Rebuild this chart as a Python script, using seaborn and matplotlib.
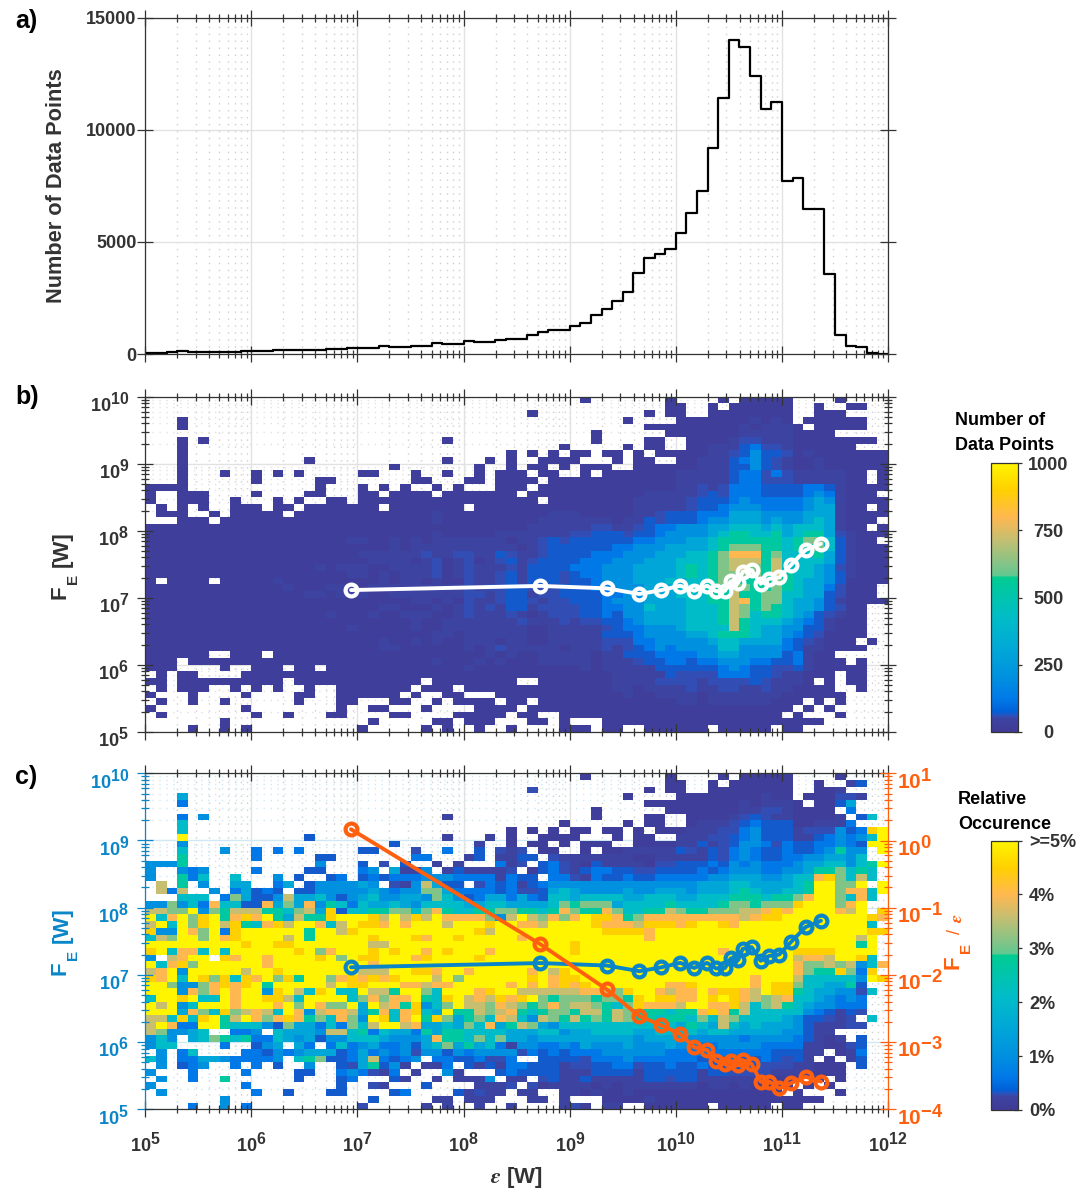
import numpy as np
import pandas as pd
import seaborn as sns
import matplotlib
matplotlib.use('Agg')
import matplotlib._mathtext as mathtext_core
import matplotlib.pyplot as plt
from matplotlib.colors import LinearSegmentedColormap
from matplotlib.ticker import FuncFormatter, LogLocator, NullFormatter
from matplotlib.transforms import ScaledTranslation

sns.set_style('white')
plt.rcParams['font.family'] = ['Liberation Sans', 'DejaVu Sans']
plt.rcParams['font.weight'] = 'bold'
plt.rcParams['mathtext.fontset'] = 'custom'
plt.rcParams['mathtext.rm'] = 'Liberation Sans'
plt.rcParams['mathtext.it'] = 'STIXGeneral:italic'
plt.rcParams['mathtext.bf'] = 'Liberation Sans:bold'
# the exponents on the log ticks are almost as big as the base
mathtext_core.SHRINK_FACTOR = 0.88

W, H = 1088, 1190
DARK = '#333333'
BLUE = '#0a86c8'
ORANGE = '#ff6010'

# histogram in panel a, one value per bin, 10 bins a decade
hist_counts = [45, 45, 74, 149, 104, 89, 89, 104, 104, 119,
               119, 134, 179, 179, 179, 179, 193, 208, 223, 253,
               283, 283, 357, 298, 327, 342, 357, 506, 431, 446,
               565, 521, 536, 625, 670, 684, 863, 982, 1056, 1071,
               1250, 1399, 1726, 1994, 2381, 2783, 3601, 4286, 4479, 4672,
               5387, 6294, 7262, 9181, 11428, 14032, 13690, 12410, 10922, 11264,
               7708, 7872, 6473, 6458, 3571, 848, 342, 298, 30, 15]

# mean curves
eps_mean = [8.69e6, 5.25e8, 2.23e9, 4.53e9, 7.21e9, 1.10e10, 1.49e10, 1.97e10, 2.39e10, 2.91e10,
            3.29e10, 3.88e10, 4.27e10, 5.19e10, 6.31e10, 7.60e10, 9.44e10, 1.21e11, 1.67e11, 2.33e11]
fe_mean = [1.30e7, 1.50e7, 1.38e7, 1.135e7, 1.29e7, 1.51e7, 1.27e7, 1.51e7, 1.25e7, 1.27e7,
           1.76e7, 1.67e7, 2.44e7, 2.59e7, 1.62e7, 1.92e7, 2.01e7, 3.05e7, 5.15e7, 6.40e7]
fe_ratio = [1.47, 0.0288, 0.0061, 0.00244, 0.00179, 0.00132, 0.000837, 0.000764, 0.000524, 0.000472,
            0.000528, 0.000455, 0.00054, 0.000472, 0.000258, 0.000258, 0.000205, 0.000244, 0.000305, 0.000258]

# cell levels, one string per row from the top, '.' is an empty cell
level_keys = '0123456789abcd'
count_levels = [20, 45, 58, 70, 120, 200, 300, 420, 540, 620, 720, 800, 900, 1000]
percent_levels = [0.1, 0.225, 0.29, 0.35, 0.6, 1.0, 1.5, 2.1, 2.7, 3.1, 3.6, 4.0, 4.5, 5.0]

count_rows = [
    ".......... .......... .......... ...... .... .0.......0 ....0.0000 0....0....",
    ".......... .......... .......... ...... .... .........0 0..0.00000 0..0..00..",
    ".......... .......... .......... ...... 0... .......0.0 0..0000000 0..000....",
    "...0...... .......... .......... ...... .... .....0.... 0000000101 0.000000..",
    "...0...... .......... .......... ...... .... .......000 0000001011 10.00000..",
    ".......... .......... .......... ...... .... ..0......0 0000001111 10000.....",
    "...0.0.... .......... ........0. ...... .... ..0....00. .000012211 100000000.",
    "...0...... .......... .......... ...... ...0 .....0.00. .001113422 1000000...",
    "...0...... .......... .......... ....0. 0.0. 00.00.0.00 0001123533 2010000000",
    "...0...... .....0.... ........0. ..0.0. .000 0...0.00.. 0011134532 1001000000",
    "...0...... .......... ...0...... .0..0. 00.0 .000..0000 0011133532 1001000000",
    "...0...0.. 0.0.0..... 00...0..0. .0.000 .00. .0.0000000 1111134424 21111100.0",
    "...0...... 0.....00.. .....00... 00.000 0.00 0000000000 1111134422 21111100.0",
    "0000...... ......0... 0.0.0..0.0 ...000 .000 0000000000 1121244433 3344310000",
    "0..000.... 0....00... 00.0000.00 00000. 0000 0000000111 1123244433 334541000.",
    "0..000..0. ..0.0..00. 0000000000 000000 0.00 0000001111 1233345444 4456510000",
    ".0.0.0..00 0.00.00000 00.0000000 .00000 0000 0000001111 1233455544 44566100.0",
    ".000..0.00 000.000000 0000000100 000000 0011 1000001123 3344466655 5566610000",
    "...000.000 0000000000 0000000100 000000 0111 1111011323 3345566656 556761000.",
    "0000000000 0000000000 0000000000 000000 1111 1122112344 5556677767 67776100.0",
    "0000000000 0000000000 0000000100 000111 1111 2233323345 5556788778 6788621000",
    "0000000000 0000000001 1001010111 111101 1232 3333334455 5667888888 789973100.",
    "0000000000 0000000000 0001011111 111110 1233 3333445556 6667899988 7889731000",
    "0000000000 0000000000 1111112112 211321 1233 3344455566 67789bbb89 7778631000",
    "0000000000 0000000000 0111101201 201231 2333 3444555666 77789aaa8a 7777631000",
    "0000000000 0000001011 1001111201 211121 3333 4445556666 78789aa98a 7776521000",
    "0000000000 0000000001 1010111201 211231 3332 3445556666 787899998a 8776531000",
    "0.0000.000 0010000000 0010110100 211231 3332 3345556667 6778998889 8766530000",
    "0000000000 0001000111 0111111111 212233 2223 3344555666 7778899889 876642000.",
    "0000000000 0000011011 1001111111 221233 1223 3334455666 77788a8899 776632000.",
    "0000000000 0000000000 0000011010 211233 2122 3334555666 67788ab899 7665310000",
    "0000000000 0000000000 0011000101 212133 1222 2334455766 67778a9898 76653200..",
    "0000000000 0000000100 0100111001 211121 0122 2334355666 67778a9788 76532100..",
    "0000000000 0000000000 0000010011 111112 1112 1223345666 67778a8777 65431000..",
    "0000000000 0000000001 0000010011 111111 0011 1112344555 67777a8766 55331000..",
    "0000000000 0000000000 0000000110 111111 0011 1113334555 5667888766 54320000..",
    "0000000000 0000000000 0010010100 111011 0011 1112224455 5556776666 4321000.0.",
    "0000000000 0000000000 0011000000 101211 1110 1112123454 5555775555 43110000..",
    "000000..00 0.00000000 0000000000 001010 0111 1101133344 4455665555 34100.....",
    "000.000000 0000000000 0000000100 010100 0111 1101112334 4344555443 341000.0..",
    "000....0.. 000.00.000 0000000000 100000 0000 0101111133 3333454332 23100000..",
    ".0.00....0 0000000000 0000000000 000000 0000 0000111113 2222444332 11000.00..",
    "00.0000000 000.000000 000000.000 00000. .000 0000111122 2212222321 110.0.00..",
    ".0.000..0. 0.0..0..00 00000.000. 000000 0000 0000110111 1211221121 10000..0..",
    "0...0....0 ....00..00 0000.0..00 ...000 0000 0000010011 1101111111 000000....",
    ".0..0..0.. ....0...00 ...00..0.0 000.00 .000 0000000000 1101111110 00.0.0....",
    "0........0 ........0. .00...0... .0000. 0000 0000000000 0000000000 0.0.0.....",
    ".0........ 0..0...00. ...00....0 0000.0 0..0 0000000000 0000000000 .0...0....",
    ".......0.. .......... .0.....00. 000... 00.0 ...0000000 0000000000 0000......",
    "....0..0.0 .......... 0.....0.0. .0..0. ...0 00.00..000 000.00000. 00........",
]

relative_rows = [
    ".......... .......... .......... ...... .... .0.......0 ....0.0000 0....0....",
    ".......... .......... .......... ...... .... .........0 0..0.00000 0..0..13..",
    ".......... .......... .......... ...... 2... .......0.0 0..0000000 0..001....",
    "...6...... .......... .......... ...... .... .....0.... 0000000010 0.000221..",
    "...4...... .......... .......... ...... .... .......000 0000001011 10.0036...",
    ".......... .......... .......... ...... .... ..0......0 0000001122 10000.4...",
    "...4.5.... .......... ........1. ...... .... ..0....00. .000012321 100001.37.",
    "...7...... .......... .......... ...... ...0 .....0.00. .011123433 3001114...",
    "...7...... .......... .......... ....0. 0.0. 00.00.0.00 0111224533 31222534cd",
    "...d...... .....3.... ........1. ..1.0. .000 0...0.00.. 1112234533 311345457d",
    "...5...... .......... ...3...... .1..0. 00.0 .000..0000 1131235542 43344543dd",
    "...7...5.. 4.4.4..... 33...2..4. .3.212 .00. .0.0011111 3213245433 43345855.d",
    "...8...... 4.....33.. .....44... 13.113 3.21 1111110011 1113245433 44556657..",
    "5558...... ......5... 3.2.3..1.1 ...412 .342 1031111022 3334354544 456677578d",
    "5..545.... 4....33... 45.6115.13 11112. 0342 1344332233 3343455544 556889787.",
    "5..847..7. ..5.3..34. 3434445554 444143 3.44 2143343344 4445566655 677bc97a7.",
    ".a.8.5..66 ..46.35555 65.215a633 .24341 3455 5555555555 5566677666 678dd99d.d",
    ".a4a..5.46 343.335555 5654559964 444342 2367 6555565566 6566678766 778dd9bb7d",
    "...777.496 335a667535 6755665975 346646 4377 6777766777 6677788878 89bdd97b7.",
    "559574b773 3b696b5874 7667657777 667766 6679 8999677778 7777899899 9cddd9bd..",
    "aa99d598aa a8879a6c37 7889979b87 788998 878b 988b97788a 988999aabc bddddbad.c",
    "d7bd9cd8bc bd86a88cdd dcadacadbb bb95ad a9b9 bdccb89bbb bbbbbbabcc ddddddddcb",
    "ad7d9cdac8 7bcaddb7ad ccbdbdddad ddcddb badd ddcbbbaccc bcddcbdddd dddddddd7.",
    "c55db9d4cd ddddd8ddac dddddddddd dcaddd dddd dddccccbdd dddddddddd ddddddddcc",
    "7a9dd9dbcd dddad8dddd dcdddcbddc dddddb dddd dddddddbdd dddddddddd dddddddad.",
    "dddddddddc ddccdddddd daaddddddd dddddd dddd cddddddddd dddddddddd ddddddd8d.",
    "cd7bb7d7dd ddddcd9bdd dcdcddbdcd ddbddd dddd cddddddddd ddddbddddd dccccdddd.",
    "5.abdd.cbd dbddddcd9d ccdddbcddd dcdddd dddd dddddddddd dddddddddd dabbaddc7.",
    "d7bc9ddddd dbdddddddd dbdddddddd dddddd dddd dddddddddd dddddddddd db99a9a57b",
    "abd5ddddda ddcddddddd aaaddccbdd bddddd bdac dddddddddd dddddddddd db988c94c.",
    "cbd7dc9c7c bd9c8dd9bc bcbcdddad9 dddddd cdbc cddddddddd dddddddbdd da777775dc",
    "dd9559bcbc d8dddddadc cdddbbabbd ddddbd bdbc bcdddddddb bcdddddbdc c9776683..",
    "ddd5b9bdbd d5cda7cd77 daa8dd97dd dbcdda aaaa abba9cddba bbdbccbadc c87665527.",
    "7ddcd77dbd dcca7dddd7 9b9bbd87cd abacbc d989 998998cdcc bbdcdcba9a b7765454..",
    "dad57dddbd ddbd9db99d 6dab8c579d aa9ba9 89b9 aa9879cbbb addbbca79a 87655444..",
    "ddd6b97c9a ba7db5abba 68b7bc76d8 8a9ab8 7899 8aa8a98887 88bcb8a777 77543132..",
    "aa7c7cd8ad b9bcb897b9 5dc7bd8c96 897ba7 5a98 a898a98878 8797a97777 6533212.7.",
    "adb44dd877 7539664749 7addab6676 97b68a 9657 7777777777 6876a76766 65311122..",
    "a95567..44 5.76665aa7 8476648688 777766 6775 6677776677 7767766666 55311.....",
    "575.679878 4476563557 7765556b88 797966 5666 6666665666 6555554555 543101.3..",
    "577....4.. 356.64.474 5644536796 867415 5445 4655565556 5544555544 44110023..",
    ".5.47....4 4354566634 6454525535 455552 4343 4445555554 4444444443 3311.014..",
    "75.4466544 445.789334 6a4345.443 34224. .333 3244454444 4433343343 231.0.13..",
    ".5.345..4. 4.3..5..32 68351.114. 313144 3331 2233442334 3343333322 211000.3..",
    "5...4....4 ....33..45 4214.1..51 ...343 3331 1133331333 3313322221 111000....",
    ".5..4..8.. ....3...34 ...31..1.1 115.11 .231 1311111332 3311111110 00.0.0....",
    "5........4 ........3. .21...3... .1112. 2011 1101011111 1101101000 0.0.0.....",
    ".5........ 4..3...33. ...34....3 1211.1 1..1 1010010000 0000000000 .0...0....",
    ".......5.. .......... .3.....11. 111... 11.1 ...0000100 0000000000 0000......",
    "....4..5.4 .......... 2.....1.1. .1..1. ...1 20.11..000 000.00000. 00........",
]

count_ticks = [0, 250, 500, 750, 1000]
count_ticklabels = ['0', '250', '500', '750', '1000']
percent_ticks = [0, 1, 2, 3, 4, 5]
percent_ticklabels = ['0%', '1%', '2%', '3%', '4%', '>=5%']


def decode(rows, levels):
    table = []
    for row in rows:
        cells = row.replace(' ', '')
        assert len(cells) == 70, row
        table.append([np.nan if c == '.' else levels[level_keys.index(c)] for c in cells])
    return pd.DataFrame(table)


def rect(left, top, right, bottom):
    return [left / W, 1 - bottom / H, (right - left) / W, (bottom - top) / H]


def bold_power(v, pos):
    return r'$\mathbf{10^{%d}}$' % round(np.log10(v))


def log_axis(axis):
    axis.set_major_locator(LogLocator(base=10, numticks=20))
    axis.set_minor_locator(LogLocator(base=10, subs=np.arange(2, 10), numticks=20))
    axis.set_minor_formatter(NullFormatter())


def draw_grid(ax, xcolor='#e2e2e2', ycolor='#e2e2e2', ylog=True):
    ax.set_axisbelow(True)
    ax.grid(True, which='major', axis='x', color=xcolor, lw=1.0)
    ax.grid(True, which='major', axis='y', color=ycolor, lw=1.0)
    ax.grid(True, which='minor', axis='x', color='#cfcfcf', lw=1.0, ls=(0, (1, 4)))
    if ylog:
        ax.grid(True, which='minor', axis='y', color=ycolor, lw=1.0, ls=(0, (1, 4)))


def style_ticks(ax, show_x=False, ypad=6):
    ax.tick_params(which='major', direction='inout', length=11.5, width=0.9, color=DARK,
                   top=True, bottom=True, left=True, right=True,
                   labelsize=13, labelcolor=DARK, labelbottom=show_x)
    ax.tick_params(which='major', axis='x', pad=10.5)
    ax.tick_params(which='major', axis='y', pad=ypad)
    ax.tick_params(which='minor', direction='inout', length=6, width=0.9, color=DARK,
                   top=True, bottom=True, left=True, right=True)
    for side in ax.spines.values():
        side.set_color(DARK)
        side.set_linewidth(0.9)


def lower_labels(ax):
    # labels sit a little below their tick
    for label in ax.get_yticklabels():
        label.set_transform(label.get_transform() + ScaledTranslation(0, -3.5 / 72, fig.dpi_scale_trans))


def fe_label(offset, color):
    fig.text(60 / W, 1 - (592 + offset) / H, 'F', fontsize=16, color=color, rotation=90, ha='center', va='center')
    fig.text(73.5 / W, 1 - (579 + offset) / H, 'E', fontsize=11, color=color, rotation=90, ha='center', va='center')
    fig.text(62 / W, 1 - (549 + offset) / H, '[W]', fontsize=16, color=color, rotation=90, ha='center', va='center')


def heat_panel(rows, levels, vmax, top, bottom, cax_rect, ticks, ticklabels, ycolor):
    box = rect(145.3, top, 888, bottom)
    grid_ax = fig.add_axes(box, zorder=1)
    grid_ax.set_xscale('log')
    grid_ax.set_yscale('log')
    grid_ax.set_xlim(1e5, 1e12)
    grid_ax.set_ylim(1e5, 1e10)
    log_axis(grid_ax.xaxis)
    log_axis(grid_ax.yaxis)
    draw_grid(grid_ax, ycolor=ycolor)
    grid_ax.tick_params(which='both', length=0, labelbottom=False, labelleft=False)
    for side in grid_ax.spines.values():
        side.set_visible(False)

    heat_ax = fig.add_axes(box, zorder=2)
    cax = fig.add_axes(cax_rect)
    sns.heatmap(decode(rows, levels), ax=heat_ax, cbar_ax=cax, cmap=parula_like, vmin=0, vmax=vmax,
                xticklabels=False, yticklabels=False, linewidths=0, cbar_kws={'ticks': ticks})
    heat_ax.patch.set_alpha(0)
    heat_ax.axis('off')
    cax.set_yticks(ticks, ticklabels)
    cbar = heat_ax.collections[0].colorbar
    cbar.outline.set_visible(True)
    cbar.outline.set_linewidth(0.9)
    cbar.outline.set_edgecolor(DARK)

    ax = fig.add_axes(box, zorder=3)
    ax.patch.set_alpha(0)
    ax.set_xscale('log')
    ax.set_yscale('log')
    ax.set_xlim(1e5, 1e12)
    ax.set_ylim(1e5, 1e10)
    log_axis(ax.xaxis)
    log_axis(ax.yaxis)
    ax.xaxis.set_major_formatter(FuncFormatter(bold_power))
    ax.yaxis.set_major_formatter(FuncFormatter(bold_power))
    return ax, cax


def mean_line(ax, y, color):
    sns.lineplot(x=eps_mean, y=y, ax=ax, color=color, linewidth=2.8, sort=False, estimator=None,
                 marker='o', markersize=8.5, markerfacecolor='none',
                 markeredgecolor=color, markeredgewidth=3)


parula_like = LinearSegmentedColormap.from_list('parula_like', [
    (0.0, '#403a96'), (0.05, '#3d44a2'), (0.06, '#2c52bc'), (0.075, '#0060d8'),
    (0.12, '#0078e8'), (0.2, '#0090e0'), (0.3, '#00a6d8'), (0.42, '#00bcc8'),
    (0.54, '#00c8a0'), (0.575, '#00cc90'), (0.58, '#60c890'), (0.62, '#80c488'),
    (0.72, '#c8be70'), (0.8, '#ffb850'), (0.9, '#ffd000'), (1.0, '#fff500')], N=512)

fig = plt.figure(figsize=(W / 100, H / 100), dpi=100)

# panel a
ax_a = fig.add_axes(rect(145.3, 18, 888, 354))
bin_centers = 10 ** (5.05 + 0.1 * np.arange(70))
sns.histplot(x=bin_centers, weights=hist_counts, bins=70, binrange=(5, 12), log_scale=True,
             element='step', fill=False, color='black', linewidth=1.6, ax=ax_a)
ax_a.set_xlim(1e5, 1e12)
ax_a.set_ylim(0, 15000)
log_axis(ax_a.xaxis)
ax_a.set_yticks([0, 5000, 10000, 15000])
draw_grid(ax_a, ylog=False)
style_ticks(ax_a, ypad=0.5)
ax_a.set_xlabel('')
ax_a.set_ylabel('Number of Data Points', fontsize=15.7, color=DARK, fontweight='bold')
ax_a.yaxis.set_label_coords(-0.105, 0.5)

# panel b
ax_b, cax_b = heat_panel(count_rows, count_levels, 1000, 396.7, 731.7, rect(991, 463, 1018, 732),
                         count_ticks, count_ticklabels, '#e2e2e2')
style_ticks(ax_b)
lower_labels(ax_b)
mean_line(ax_b, fe_mean, 'white')
fe_label(0, DARK)
cax_b.tick_params(direction='inout', length=6, width=0.9, color=DARK, labelsize=13,
                  labelcolor=DARK, pad=19)
for label in cax_b.get_yticklabels():
    label.set_ha('center')

# panel c
ax_c, cax_c = heat_panel(relative_rows, percent_levels, 5, 773.3, 1109.3, rect(991, 840.5, 1018, 1110),
                         percent_ticks, percent_ticklabels, '#cfe8f4')
style_ticks(ax_c, show_x=True)
ax_c.tick_params(which='both', axis='y', right=False, color=BLUE, labelcolor=BLUE)
ax_c.spines['left'].set_color(BLUE)
ax_c.spines['right'].set_visible(False)
lower_labels(ax_c)
mean_line(ax_c, fe_mean, BLUE)
ax_c.set_xlabel(r'$\epsilon$ [W]', fontsize=16, color=DARK, fontweight='bold')
ax_c.xaxis.set_label_coords(0.5, -0.165)
fe_label(376, BLUE)
cax_c.tick_params(direction='inout', length=6, width=0.9, color=DARK, labelsize=13,
                  labelcolor=DARK, pad=5)

ax_r = ax_c.twinx()
ax_r.patch.set_alpha(0)
ax_r.set_yscale('log')
ax_r.set_ylim(1e-4, 1e1)
log_axis(ax_r.yaxis)
ax_r.yaxis.set_major_formatter(FuncFormatter(bold_power))
ax_r.tick_params(which='major', axis='y', direction='inout', length=11.5, width=0.9, color=ORANGE,
                 labelcolor=ORANGE, labelsize=15, pad=0.5)
ax_r.tick_params(which='minor', axis='y', direction='inout', length=6, width=0.9, color=ORANGE)
for name, side in ax_r.spines.items():
    side.set_visible(name == 'right')
ax_r.spines['right'].set_color(ORANGE)
ax_r.spines['right'].set_linewidth(0.9)
lower_labels(ax_r)
mean_line(ax_r, fe_ratio, ORANGE)

fig.text(953 / W, 1 - 962 / H, 'F', fontsize=16, color=ORANGE, rotation=90, ha='center', va='center')
fig.text(966 / W, 1 - 948 / H, 'E', fontsize=11, color=ORANGE, rotation=90, ha='center', va='center')
fig.text(955 / W, 1 - 932 / H, '/', fontsize=13, fontweight='normal', color=ORANGE, rotation=90, ha='center', va='center')
fig.text(957 / W, 1 - 918 / H, r'$\epsilon$', fontsize=13, color=ORANGE, rotation=90, ha='center', va='center')

fig.text(15 / W, 1 - 21 / H, 'a)', fontsize=18, fontweight='bold', color='black', va='center')
fig.text(15 / W, 1 - 397 / H, 'b)', fontsize=18, fontweight='bold', color='black', va='center')
fig.text(15 / W, 1 - 777 / H, 'c)', fontsize=18, fontweight='bold', color='black', va='center')
fig.text(955 / W, 1 - 433 / H, 'Number of\nData Points', fontsize=13, fontweight='bold', color='black',
         va='center', linespacing=1.55)
fig.text(958 / W, 1 - 812 / H, 'Relative\nOccurence', fontsize=13, fontweight='bold', color='black',
         va='center', linespacing=1.55)

fig.savefig('out.png', dpi=100)
